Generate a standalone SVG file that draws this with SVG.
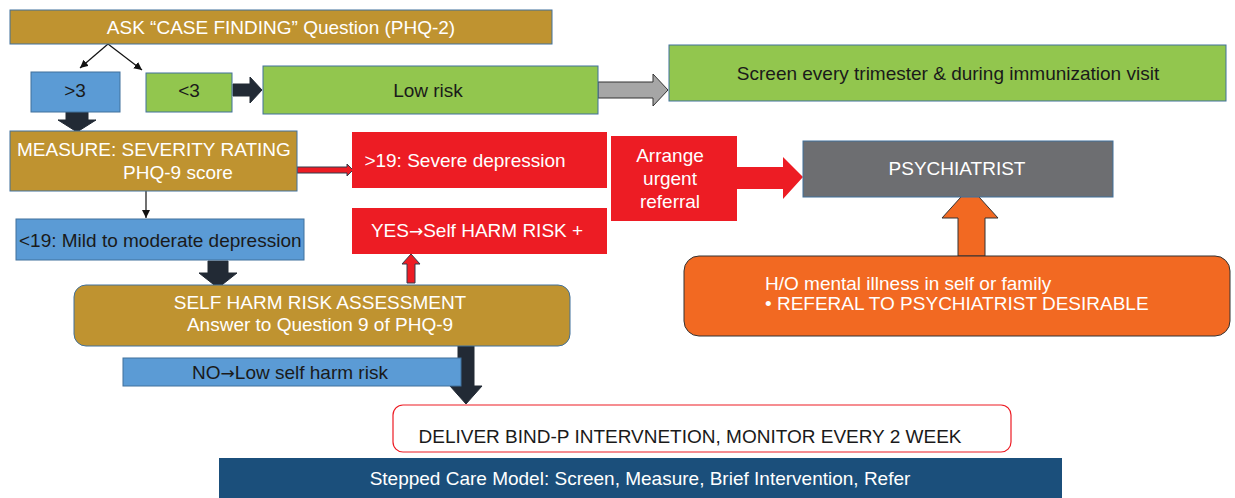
<svg xmlns="http://www.w3.org/2000/svg" width="1235" height="498" viewBox="0 0 1235 498">
<defs>
<style>
text{font-family:"Liberation Sans",Arial,sans-serif;font-size:19px;}
.ar{font-family:"DejaVu Sans",sans-serif;font-size:17px;}
.w{fill:#ffffff;}
.d{fill:#1a1a1a;}
.gold{fill:#BF9330;stroke:#41719C;stroke-width:1;}
.blue{fill:#5B9BD5;stroke:#41719C;stroke-width:1;}
.green{fill:#92C64E;stroke:#41719C;stroke-width:1;}
.red{fill:#ED1C24;stroke:none;}
.thin{stroke:#111;stroke-width:1.2;fill:none;}
.dark{fill:#222A35;stroke:#222A35;stroke-width:1;}
</style>
<marker id="ah" viewBox="0 0 10 10" refX="10" refY="5" markerWidth="8" markerHeight="8" orient="auto" markerUnits="userSpaceOnUse">
<path d="M0,0 L10,5 L0,10 z" fill="#111"/>
</marker>
</defs>
<rect width="1235" height="498" fill="#ffffff"/>

<g id="connectors">
<line class="thin" x1="108" y1="44" x2="80" y2="68" marker-end="url(#ah)"/>
<line class="thin" x1="108" y1="44" x2="142" y2="70" marker-end="url(#ah)"/>
<line class="thin" x1="146" y1="191" x2="146" y2="218" marker-end="url(#ah)"/>
<path class="dark" d="M66,112 H88 V120 H96 L77,132 L58,120 H66 Z"/>
<path class="dark" d="M233,84 H250 V77 L262,90 L250,103 V96 H233 Z"/>
<path d="M598,82 H653 V74 L668,90 L653,106 V98 H598 Z" fill="#A6A6A6" stroke="#333" stroke-width="1"/>
<path d="M297,167 H347 V164 L353,170 L347,176 V173 H297 Z" fill="#ED1C24" stroke="#333A4A" stroke-width="1"/>
<path d="M407,283 V264 H402 L411,254 L420,264 H415 V283 Z" fill="#ED1C24" stroke="#333A4A" stroke-width="1"/>
<path class="dark" d="M208,261 H228 V273 H237 L218,288 L199,273 H208 Z"/>
<path class="dark" d="M458,346 H474 V386 H482 L466,404 L450,386 H458 Z"/>
<path d="M958,256 V218 H942 L970,187 L998,218 H985 V256 Z" fill="#F26922" stroke="#333" stroke-width="1"/>
</g>

<g id="ask">
<rect class="gold" x="10" y="10" width="542" height="34" stroke="none"/>
<text class="w" x="281" y="34" text-anchor="middle">ASK “CASE FINDING” Question (PHQ-2)</text>
</g>

<g id="gt3">
<rect class="blue" x="31" y="72" width="89" height="40"/>
<text class="d" x="75" y="97" text-anchor="middle">&gt;3</text>
</g>

<g id="lt3">
<rect class="green" x="146" y="73" width="86" height="39"/>
<text class="d" x="189" y="97" text-anchor="middle">&lt;3</text>
</g>

<g id="lowrisk">
<rect class="green" x="263" y="66" width="335" height="48"/>
<text class="d" x="428" y="97" text-anchor="middle">Low risk</text>
</g>

<g id="screen">
<rect class="green" x="669" y="45" width="557" height="56"/>
<text class="d" x="948" y="80" text-anchor="middle">Screen every trimester &amp; during immunization visit</text>
</g>

<g id="measure">
<rect class="gold" x="10" y="131" width="287" height="60"/>
<text class="w" x="17" y="156">MEASURE: SEVERITY RATING</text>
<text class="w" x="178" y="179" text-anchor="middle">PHQ-9 score</text>
</g>

<g id="severe">
<rect class="red" x="352" y="132" width="255" height="56"/>
<text class="w" x="465" y="167" text-anchor="middle">&gt;19: Severe depression</text>
</g>

<g id="arrange">
<path class="red" d="M611,136 H737 V167 H783 V157 L803,177 L783,199 V189 H737 V221 H611 Z" stroke="#555" stroke-width="0.8"/>
<text class="w" x="670" y="162" text-anchor="middle">Arrange</text>
<text class="w" x="670" y="185" text-anchor="middle">urgent</text>
<text class="w" x="670" y="208" text-anchor="middle">referral</text>
</g>

<g id="psychiatrist">
<rect x="803" y="141" width="310" height="56" fill="#6D6E71" stroke="#41719C" stroke-width="1"/>
<text class="w" x="957" y="175" text-anchor="middle">PSYCHIATRIST</text>
</g>

<g id="mild">
<rect class="blue" x="16" y="219" width="288" height="41"/>
<text class="d" x="19" y="247">&lt;19: Mild to moderate depression</text>
</g>

<g id="yes">
<rect class="red" x="352" y="208" width="255" height="46"/>
<text class="w" x="477" y="237" text-anchor="middle">YES<tspan class="ar">→</tspan>Self HARM RISK +</text>
</g>

<g id="ho">
<rect x="684" y="256" width="546" height="80" rx="15" ry="15" fill="#F26922" stroke="#333" stroke-width="1"/>
<text class="w" x="765" y="290">H/O mental illness in self or family</text>
<text class="w" x="765" y="310">• REFERAL TO PSYCHIATRIST DESIRABLE</text>
</g>

<g id="selfharm">
<rect class="gold" x="74" y="285" width="496" height="61" rx="12" ry="12"/>
<text class="w" x="320" y="309" text-anchor="middle">SELF HARM RISK ASSESSMENT</text>
<text class="w" x="320" y="331" text-anchor="middle">Answer to Question 9 of PHQ-9</text>
</g>

<g id="no">
<rect class="blue" x="123" y="358" width="338" height="28"/>
<text class="d" x="290" y="379" text-anchor="middle">NO<tspan class="ar">→</tspan>Low self harm risk</text>
</g>

<g id="deliver">
<rect x="393" y="405" width="618" height="47" rx="10" ry="10" fill="#ffffff" stroke="#ED1C24" stroke-width="1.2"/>
<text class="d" x="690" y="443" text-anchor="middle">DELIVER BIND-P INTERVNETION, MONITOR EVERY 2 WEEK</text>
</g>

<g id="stepped">
<rect x="219" y="458" width="843" height="40" fill="#1B4F7B"/>
<text class="w" x="640" y="485" text-anchor="middle">Stepped Care Model: Screen, Measure, Brief Intervention, Refer</text>
</g>
</svg>
